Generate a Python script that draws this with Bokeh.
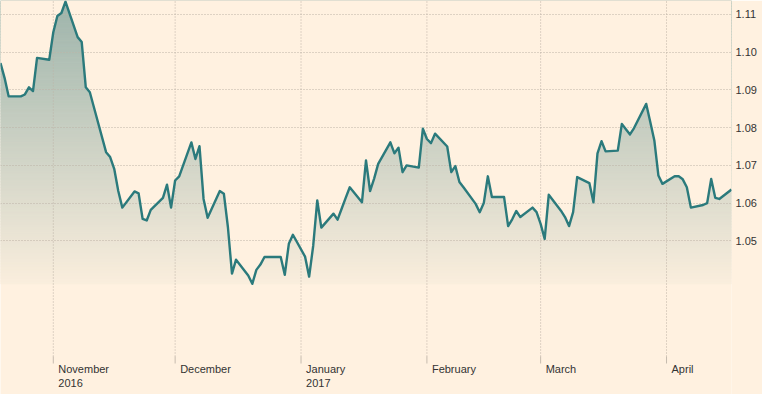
import numpy as np
import pandas as pd
from bokeh.plotting import figure
from bokeh.models import Range1d, FixedTicker, ColumnDataSource, NumeralTickFormatter
from bokeh.core.properties import value
from bokeh.embed import file_html
from bokeh.resources import INLINE

# ---- data (business days) ----
start_date = "2016-10-19"
end_date = "2017-04-17"
rates = [
    1.0971, 1.0932, 1.0883,                       # Oct 19-21
    1.0883, 1.0888, 1.0907, 1.0897, 1.0985,       # Oct 24-28
    1.0980, 1.1053, 1.1096, 1.1104, 1.1134,       # Oct 31-Nov 4
    1.1040, 1.1027, 1.0907, 1.0894, 1.0854,       # Nov 7-11
    1.0735, 1.0722, 1.0691, 1.0632, 1.0588,       # Nov 14-18
    1.0631, 1.0626, 1.0558, 1.0554, 1.0582,       # Nov 21-25
    1.0614, 1.0649, 1.0588, 1.0660, 1.0671,       # Nov 28-Dec 2
    1.0761, 1.0717, 1.0751, 1.0611, 1.0561,       # Dec 5-9
    1.0632, 1.0625, 1.0536, 1.0413, 1.0450,       # Dec 12-16
    1.0408, 1.0386, 1.0423, 1.0437, 1.0457,       # Dec 19-23
    1.0457, 1.0457, 1.0410, 1.0492, 1.0516,       # Dec 26-30
    1.0458, 1.0405, 1.0487, 1.0607, 1.0535,       # Jan 2-6
    1.0572, 1.0556, 1.0585, 1.0614, 1.0642,       # Jan 9-13
    1.0602, 1.0713, 1.0632, 1.0665, 1.0704,       # Jan 16-20
    1.0761, 1.0732, 1.0747, 1.0682, 1.0700,       # Jan 23-27
    1.0694, 1.0797, 1.0770, 1.0759, 1.0784,       # Jan 30-Feb 3
    1.0750, 1.0682, 1.0698, 1.0656, 1.0642,       # Feb 6-10
    1.0598, 1.0576, 1.0600, 1.0671, 1.0616,       # Feb 13-17
    1.0616, 1.0539, 1.0557, 1.0579, 1.0563,       # Feb 20-24
    1.0588, 1.0576, 1.0545, 1.0505, 1.0622,       # Feb 27-Mar 3
    1.0580, 1.0563, 1.0539, 1.0576, 1.0669,       # Mar 6-10
    1.0653, 1.0602, 1.0732, 1.0764, 1.0737,       # Mar 13-17
    1.0739, 1.0810, 1.0796, 1.0782, 1.0799,       # Mar 20-24
    1.0863, 1.0815, 1.0766, 1.0673, 1.0651,       # Mar 27-31
    1.0671, 1.0671, 1.0663, 1.0642, 1.0588,       # Apr 3-7
    1.0595, 1.0600, 1.0664, 1.0614, 1.0611,       # Apr 10-14
    1.0636,                                       # Apr 17
]
y_ticks = [1.05, 1.06, 1.07, 1.08, 1.09, 1.10, 1.11]
month_starts = ["2016-11-01", "2016-12-01", "2017-01-01", "2017-02-01", "2017-03-01", "2017-04-01"]
month_names = ["November", "December", "January", "February", "March", "April"]
month_years = ["2016", "", "2017", "", "", ""]

dates = pd.bdate_range(start_date, end_date)
n = min(len(dates), len(rates))
dates = dates[:n]
rates = rates[:n]

# ---- style / layout ----
BG = "#fff1e0"
LINE = "#2b7a7c"
GRID = "#bdb2a6"
TICK = "#c6bbae"
TEXT = "#333333"
FONT = "Liberation Sans"
W, H = 762, 394
RIGHT = 31                       # room for the right-hand labels
y_lo, y_hi = 1.00926, 1.11371    # frame covers the full height
px = (y_hi - y_lo) / H           # value per pixel
grid_bottom = y_lo + 38 * px     # vertical grid stops above the labels
tick_bottom = y_lo + 31 * px

p = figure(width=W, height=H, x_axis_type="datetime", y_axis_location="right",
           x_axis_location=None,
           x_range=Range1d(dates[0], dates[-1]), y_range=Range1d(y_lo, y_hi),
           output_backend="svg", toolbar_location=None,
           background_fill_color=BG, border_fill_color=BG,
           min_border=0, min_border_right=RIGHT)
p.outline_line_color = None

# gradient fill under the curve: horizontal bands, then a mask above the curve
n_bands = 100
edges = np.linspace(min(rates), y_hi, n_bands + 1)
centers = (edges[:-1] + edges[1:]) / 2
fill_rgb = np.array([59, 119, 118])
bg_rgb = np.array([255, 241, 224])
a_top, v_top, v_zero = 0.5, 1.1137, 1.0345
alphas = np.clip(a_top * (centers - v_zero) / (v_top - v_zero), 0, 1)
band_colors = ["#%02x%02x%02x" % tuple(int(round(c)) for c in bg_rgb * (1 - a) + fill_rgb * a) for a in alphas]
band_src = ColumnDataSource(dict(left=[dates[0]] * n_bands, right=[dates[-1]] * n_bands,
                                 bottom=edges[:-1], top=edges[1:], color=band_colors))
p.quad(left="left", right="right", bottom="bottom", top="top", source=band_src,
       fill_color="color", line_color="color", line_width=1, level="image")

src = ColumnDataSource(dict(x=dates, y=rates))
p.varea(x="x", y1="y", y2=y_hi + 0.01, source=src, fill_color=BG, level="image")

# horizontal grid
p.xgrid.visible = False
p.ygrid.ticker = FixedTicker(ticks=y_ticks)
p.ygrid.grid_line_color = GRID
p.ygrid.grid_line_dash = "1 2"
p.ygrid.grid_line_width = 1

# vertical month grid + ticks + labels
month_dt = [pd.Timestamp(m) for m in month_starts]
msrc = ColumnDataSource(dict(x=month_dt, name=month_names, year=month_years))
p.segment(x0="x", x1="x", y0=grid_bottom, y1=y_hi, source=msrc,
          line_color=GRID, line_dash="1 2", line_width=1)
p.segment(x0="x", x1="x", y0=tick_bottom, y1=grid_bottom, source=msrc,
          line_color=TICK, line_width=1)
p.text(x="x", y=y_lo, text="name", source=msrc, x_offset=5, y_offset=-26,
       text_font=value(FONT), text_font_size="11px", text_color=TEXT,
       text_align="left", text_baseline="alphabetic")
p.text(x="x", y=y_lo, text="year", source=msrc, x_offset=5, y_offset=-11.5,
       text_font=value(FONT), text_font_size="11px", text_color=TEXT,
       text_align="left", text_baseline="alphabetic")

# the line
p.line(x="x", y="y", source=src, line_color=LINE, line_width=2.4, line_join="round")

# y axis on right
p.yaxis.ticker = FixedTicker(ticks=y_ticks)
p.yaxis.formatter = NumeralTickFormatter(format="0.00")
p.yaxis.axis_line_color = None
p.yaxis.major_tick_line_color = None
p.yaxis.minor_tick_line_color = None
p.yaxis.major_tick_in = 0
p.yaxis.major_tick_out = 0
p.yaxis.major_label_standoff = 4
p.yaxis.major_label_text_font = FONT
p.yaxis.major_label_text_font_size = "11px"
p.yaxis.major_label_text_color = TEXT

open("out.html", "w").write(file_html(p, INLINE))
